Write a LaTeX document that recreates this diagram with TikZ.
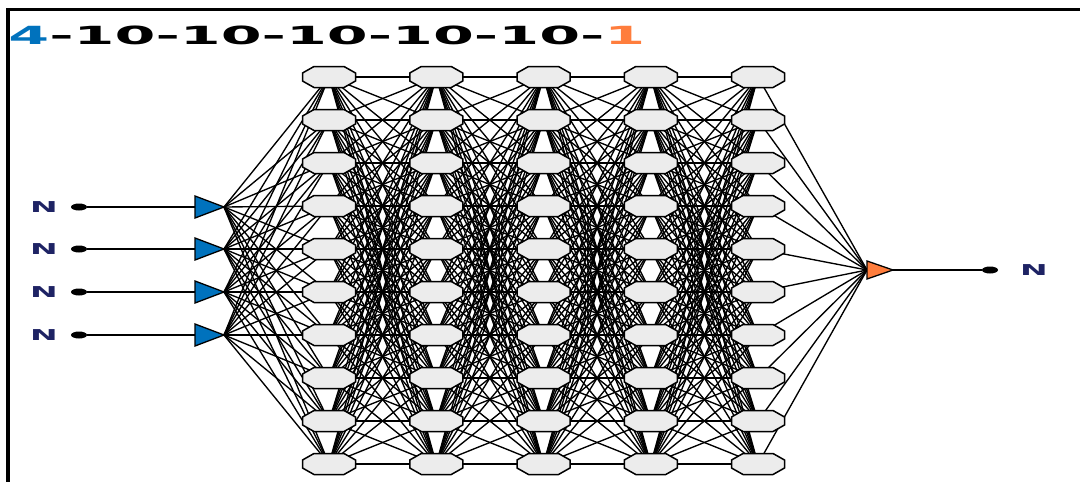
\documentclass[tikz,border=0pt]{standalone}
\usepackage{fontspec}
\newfontfamily\djs{DejaVu Sans}
\usetikzlibrary{shapes.geometric}
\pgfdeclarelayer{back}
\pgfdeclarelayer{bg}
\pgfsetlayers{back,bg,main}
\definecolor{tblue}{RGB}{0,114,189}
\definecolor{torange}{RGB}{255,125,60}
\definecolor{lfill}{RGB}{236,236,236}
\definecolor{nnavy}{RGB}{30,35,100}
\begin{document}
\begin{tikzpicture}[x=1pt,y=-1pt,
  neuron/.style={rectangle, minimum width=53pt, minimum height=21pt, inner sep=0pt},
  oct/.style={draw=black, line width=1.5pt, fill=lfill, line join=miter},
  link/.style={black, line width=1.35pt},
  tri/.style={draw=black, line width=1.3pt, line join=miter},
  pin/.style={ellipse, fill=black, minimum width=16pt, minimum height=7pt, inner sep=0pt},
  lbl/.style={font=\djs\bfseries\fontsize{15}{15}\selectfont, text=nnavy, xscale=2.2, inner sep=0pt},
  frame/.style={black, line width=3.5pt}]
\begin{pgfonlayer}{back}
\fill[white] (0,0) rectangle (1080,482);
\end{pgfonlayer}
\useasboundingbox (0,0) rectangle (1080,482);
% frame
\draw[frame] (8,482) -- (8,9.5) -- (1080,9.5);
% title
\node[anchor=base west, inner sep=0pt, font=\djs\bfseries\fontsize{25}{25}\selectfont, xscale=2.35] (title) at (8,44)
  {\textcolor{tblue}{4}-10-10-10-10-10-\textcolor{torange}{1}};
% hidden neurons
\foreach \c in {1,...,5}
  \foreach \r in {1,...,10}{
    \node[neuron] (n\c-\r) at ({329+107.25*(\c-1)},{77+43*(\r-1)}) {};
    \filldraw[oct] (n\c-\r.center) +(-15,-10.5) -- +(15,-10.5) -- +(26.5,-4) -- +(26.5,4)
      -- +(15,10.5) -- +(-15,10.5) -- +(-26.5,4) -- +(-26.5,-4) -- cycle;
  }
% inputs
\foreach \i/\y in {1/207,2/249,3/292,4/335}{
  \node[lbl] (L\i) at (44,\y) {N};
  \node[pin] (d\i) at (79,\y) {};
  \coordinate (ta\i) at (224,\y);
  \coordinate (tw\i) at (195,\y);
  \draw[link] (d\i) -- (tw\i);
  \filldraw[tri, fill=tblue] (ta\i) -- (195,\y-11) -- (195,\y+11) -- cycle;
}
% output
\coordinate (oa) at (893,270);
\coordinate (ow) at (867,270);
\node[pin] (od) at (990,270) {};
\node[lbl] (LO) at (1034,270) {N};
\draw[link] (oa) -- (od);
\filldraw[tri, fill=torange] (oa) -- (867,261) -- (867,279) -- cycle;
% connections
\begin{pgfonlayer}{bg}
\foreach \i in {1,...,4}
  \foreach \r in {1,...,10}
    \draw[link] (ta\i) -- (n1-\r.center);
\foreach \c in {1,...,4}{
  \pgfmathtruncatemacro\d{\c+1}
  \foreach \r in {1,...,10}
    \foreach \s in {1,...,10}
      \draw[link] (n\c-\r.center) -- (n\d-\s.center);
}
\foreach \r in {1,...,10}
  \draw[link] (n5-\r.center) -- (ow);
\end{pgfonlayer}
\end{tikzpicture}
\end{document}
